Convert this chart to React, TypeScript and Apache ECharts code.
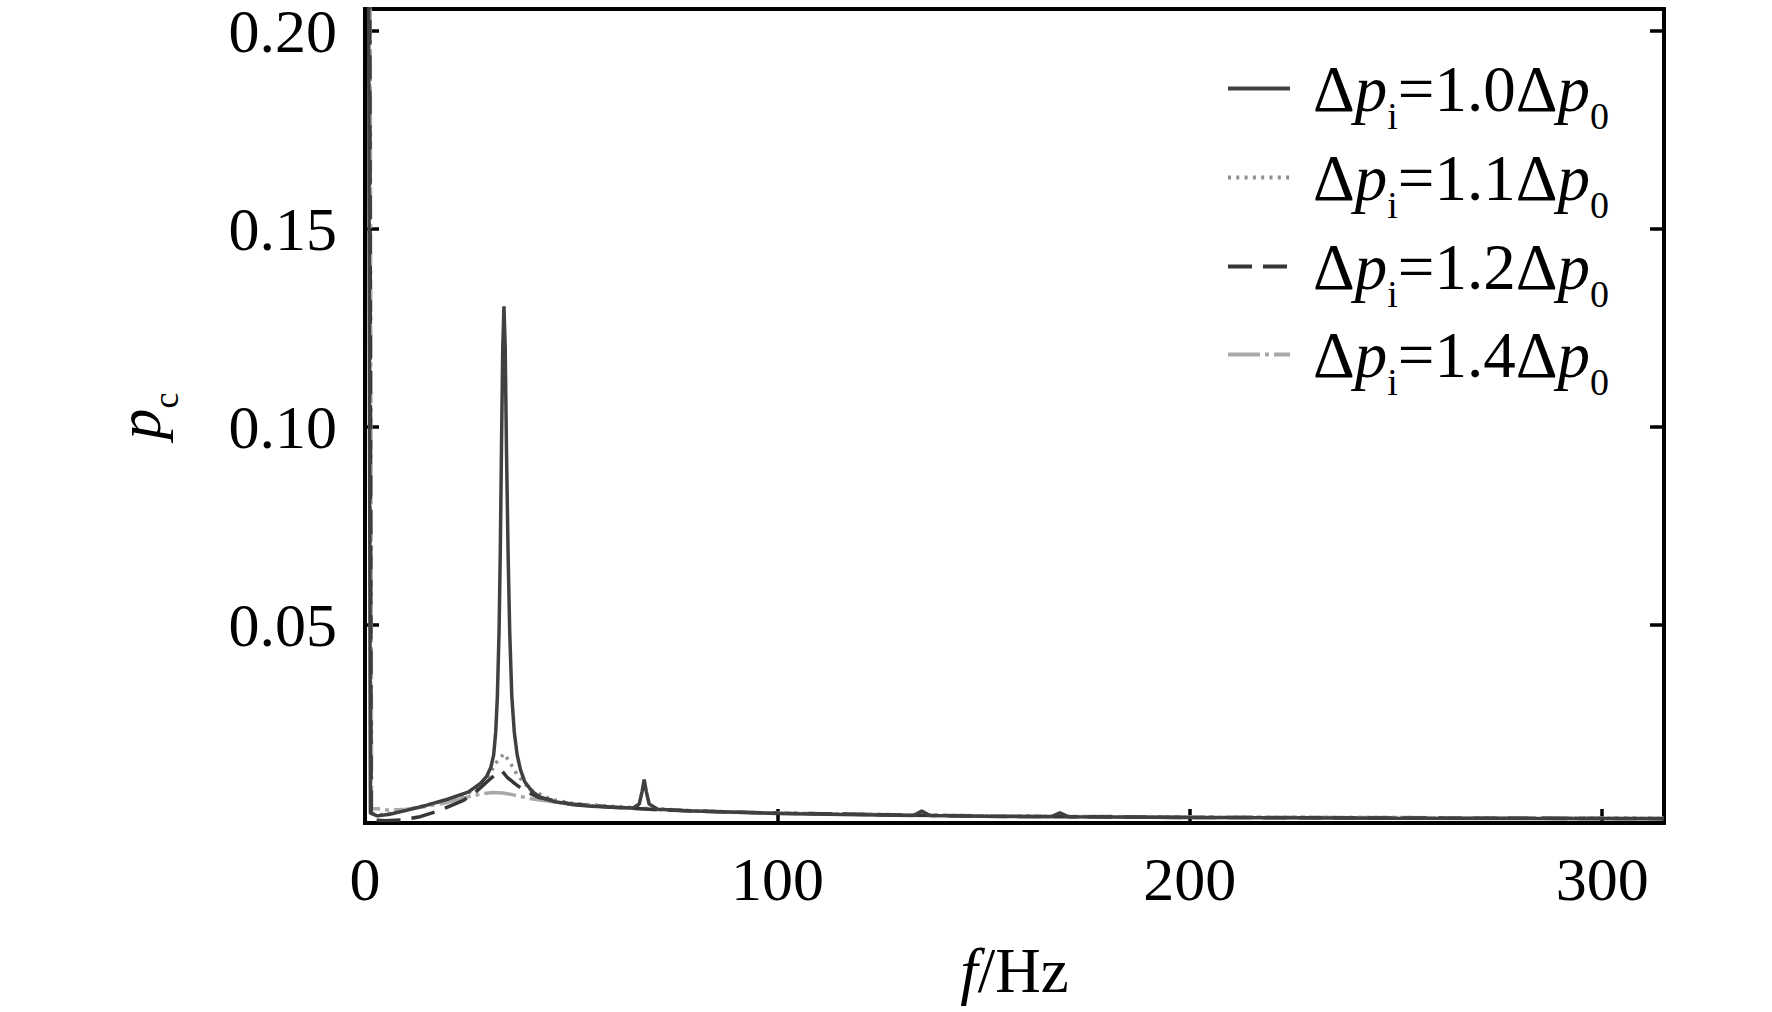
import React, { useEffect, useRef } from "react";
import * as echarts from "echarts";

// ---------- data ----------
const SERIES_NAMES = [
  "Δp_i=1.0Δp_0",
  "Δp_i=1.1Δp_0",
  "Δp_i=1.2Δp_0",
  "Δp_i=1.4Δp_0",
];
const LEGEND_RATIOS = ["1.0", "1.1", "1.2", "1.4"];
const X_TICK_LABELS = [0, 100, 200, 300];
const Y_TICK_LABELS = [0.05, 0.1, 0.15, 0.2];

// f (Hz), p_c
const series10: [number, number][] = [
  [0.7, 0.3], [1.3, 0.0025], [3, 0.0018], [6, 0.0022], [10, 0.0032], [15, 0.0045],
  [20, 0.006], [25, 0.0078], [28, 0.01], [29.5, 0.0118], [30.5, 0.014], [31.2, 0.0172],
  [31.7, 0.023], [32.1, 0.032], [32.5, 0.048], [32.8, 0.068], [33.1, 0.095],
  [33.4, 0.12], [33.7, 0.1305], [34.0, 0.12], [34.3, 0.095], [34.7, 0.068],
  [35.1, 0.048], [35.6, 0.032], [36.2, 0.023], [36.9, 0.0172], [37.7, 0.0135],
  [38.7, 0.0105], [40.5, 0.008], [42.5, 0.0065],
  [46, 0.0054], [50.6, 0.0046], [55, 0.0042], [60, 0.004], [65, 0.0038],
  [66.5, 0.0048], [67.2, 0.008], [67.7, 0.011], [68.2, 0.008], [68.9, 0.0048], [71, 0.0035], [80, 0.003],
  [90, 0.0027], [100, 0.0024], [120, 0.0021], [133, 0.0019], [135, 0.003],
  [137, 0.0019], [150, 0.0017], [166.5, 0.0016], [168.5, 0.0026], [170.5, 0.0016],
  [200, 0.0014], [250, 0.0012], [315, 0.0011],
];
const series11: [number, number][] = [
  [0.9, 0.3], [1.4, 0.0026], [3, 0.002], [6, 0.0024], [10, 0.0032], [15, 0.0045],
  [20, 0.0058], [25, 0.0075], [28, 0.0095], [30, 0.012], [32, 0.0155],
  [33.7, 0.0175], [35.2, 0.0152], [37, 0.012], [40, 0.0085], [45, 0.006],
  [50, 0.005], [60, 0.0042], [70, 0.0036], [80, 0.0031], [100, 0.0025],
  [150, 0.0018], [200, 0.0015], [315, 0.0012],
];
const series12: [number, number][] = [
  [1.0, 0.3], [1.5, 0.0008], [5, 0.0006], [9, 0.0008], [13, 0.0015], [17, 0.0028],
  [20, 0.004], [24, 0.0058], [27, 0.008], [30, 0.0108], [32, 0.0126],
  [33.2, 0.0132], [34.5, 0.0115], [36.5, 0.0098], [38.5, 0.0083], [42, 0.0065],
  [50, 0.0048], [60, 0.004], [70, 0.0034], [80, 0.003], [100, 0.0025],
  [150, 0.0017], [200, 0.0014], [315, 0.0011],
];
const series14: [number, number][] = [
  [1.1, 0.3], [1.6, 0.0036], [3, 0.0036], [6, 0.0032], [10, 0.0035], [15, 0.0042],
  [20, 0.0052], [25, 0.0066], [28, 0.0073], [31, 0.0077], [33.5, 0.0076],
  [36, 0.0071], [40, 0.0062], [45, 0.0054], [50, 0.0047], [60, 0.004],
  [70, 0.0034], [80, 0.003], [100, 0.0025], [150, 0.0018], [200, 0.0015],
  [315, 0.0012],
];
const SERIES_DATA = [series10, series11, series12, series14];

// ---------- styles ----------
const FONT = "'Liberation Serif', 'Times New Roman', serif";
const SERIES_STYLE = [
  { color: "#404040", width: 3.5, type: "solid" as any, z: 4 },
  { color: "#8f8f8f", width: 3.5, type: [3, 5.3] as any, z: 2 },
  { color: "#363636", width: 3.5, type: [24, 11] as any, z: 3 },
  { color: "#a8a8a8", width: 3.5, type: [32, 5, 4, 5] as any, z: 2 },
];
const LEGEND_TOPS = [56, 145, 234, 322];

const richBase = {
  sp: { width: 18, fontSize: 65, lineHeight: 92, fontFamily: FONT, color: "#000" },
  n: { fontSize: 65, lineHeight: 92, fontFamily: FONT, color: "#000" },
  i: { fontSize: 65, lineHeight: 92, fontFamily: FONT, fontStyle: "italic", color: "#000" },
  s: { fontSize: 38, lineHeight: 44, fontFamily: FONT, verticalAlign: "bottom", color: "#000" },
};

export default function App() {
  const ref = useRef<HTMLDivElement>(null);
  useEffect(() => {
    document.body.style.margin = "0";
    if (!ref.current) return;
    const chart = echarts.init(ref.current, undefined, { renderer: "svg" });
    const yMax = 0.2056;
    const xMax = 315;
    const option: any = {
      animation: false,
      backgroundColor: "#fff",
      grid: {
        left: 365,
        top: 9,
        right: 108,
        bottom: 189,
        show: true,
        borderColor: "#000",
        borderWidth: 4,
        backgroundColor: "transparent",
      },
      xAxis: [
        {
          type: "value",
          min: 0,
          max: xMax,
          interval: 100,
          position: "bottom",
          axisLine: { show: false },
          splitLine: { show: false },
          axisTick: { show: true, inside: true, length: 14, lineStyle: { color: "#000", width: 3.5 } },
          axisLabel: {
            margin: 25,
            fontSize: 62,
            lineHeight: 62,
            fontFamily: FONT,
            color: "#000",
            formatter: (v: number) => (X_TICK_LABELS.includes(v) ? String(v) : ""),
          },
          name: "{i|f}{n|/Hz}",
          nameLocation: "middle",
          nameGap: 117,
          nameTextStyle: {
            rich: {
              i: { fontSize: 63, lineHeight: 62, fontFamily: FONT, fontStyle: "italic", color: "#000" },
              n: { fontSize: 63, lineHeight: 62, fontFamily: FONT, color: "#000" },
            },
          },
        },
      ],
      yAxis: [
        {
          type: "value",
          min: 0,
          max: yMax,
          interval: 0.05,
          position: "left",
          axisLine: { show: false },
          splitLine: { show: false },
          axisTick: { show: true, inside: true, length: 14, lineStyle: { color: "#000", width: 3.5 } },
          axisLabel: {
            margin: 28,
            fontSize: 62,
            lineHeight: 54,
            fontFamily: FONT,
            color: "#000",
            formatter: (v: number) => {
              const hit = Y_TICK_LABELS.find((t) => Math.abs(t - v) < 1e-9);
              return hit !== undefined ? hit.toFixed(2) : "";
            },
          },
          name: "{i|p}{s|c}",
          nameLocation: "middle",
          nameGap: 181,
          nameTextStyle: {
            rich: {
              i: { fontSize: 62, lineHeight: 90, fontFamily: FONT, fontStyle: "italic", color: "#000" },
              s: { fontSize: 36, lineHeight: 42, fontFamily: FONT, verticalAlign: "bottom", color: "#000" },
            },
          },
        },
        {
          type: "value",
          min: 0,
          max: yMax,
          interval: 0.05,
          position: "right",
          axisLine: { show: false },
          splitLine: { show: false },
          axisLabel: { show: false },
          axisTick: { show: true, inside: true, length: 14, lineStyle: { color: "#000", width: 3.5 } },
        },
      ],
      legend: SERIES_NAMES.map((name, k) => ({
        data: [name],
        left: 1226,
        top: LEGEND_TOPS[k],
        padding: 0,
        itemWidth: 62,
        itemHeight: 14,
        selectedMode: false,
        itemStyle: { opacity: 0 },
        lineStyle: { width: 4 },
        formatter: () => `{sp| }{n|Δ}{i|p}{s|i}{n|=${LEGEND_RATIOS[k]}Δ}{i|p}{s|0}`,
        textStyle: { fontFamily: FONT, fontSize: 65, color: "#000", rich: richBase },
      })),
      series: SERIES_NAMES.map((name, k) => ({
        type: "line",
        name,
        data: SERIES_DATA[k],
        xAxisIndex: 0,
        yAxisIndex: 0,
        symbol: "none",
        showSymbol: false,
        clip: true,
        z: SERIES_STYLE[k].z,
        itemStyle: { color: SERIES_STYLE[k].color },
        lineStyle: {
          color: SERIES_STYLE[k].color,
          width: SERIES_STYLE[k].width,
          type: SERIES_STYLE[k].type,
        },
      })),
    };
    chart.setOption(option);
    return () => chart.dispose();
  }, []);
  return <div ref={ref} style={{ width: 1772, height: 1012 }} />;
}
